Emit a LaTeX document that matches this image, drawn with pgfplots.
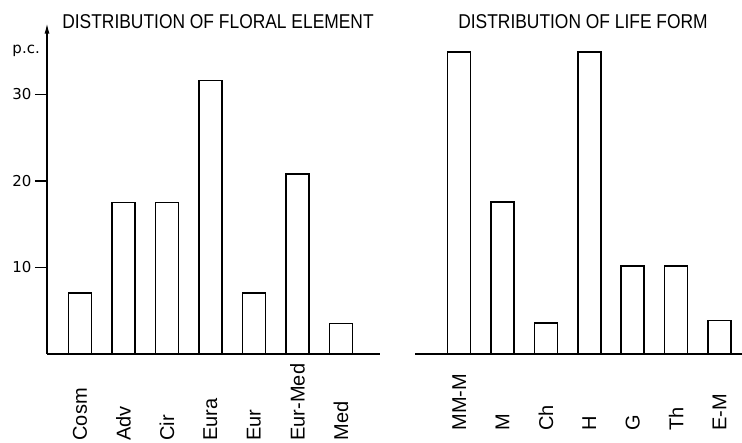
\documentclass[border=0pt]{standalone}
\usepackage{fontspec}
\usepackage{graphicx}
\setmainfont{Liberation Sans}
\newfontfamily\dgtfnt{DejaVu Sans}
\usepackage{pgfplots}
\usepackage{pgfplotstable}
\pgfplotsset{compat=1.18}
\usetikzlibrary{arrows.meta}

\pgfplotstableread{
x val
0 7.05
1 17.5
2 17.5
3 31.6
4 7.05
5 20.8
6 3.5
}\floral

\pgfplotstableread{
x val
0 34.9
1 17.6
2 3.6
3 34.9
4 10.2
5 10.2
6 3.9
}\life

\begin{document}
\begin{tikzpicture}
\useasboundingbox (0,0) rectangle (742pt,442pt);
\begin{axis}[
  scale only axis, anchor=south west,
  at={(47pt,88pt)},
  width=333pt, height=331.3pt,
  xmin=-0.76, xmax=6.9, ymin=0, ymax=38.3,
  clip=false,
  axis line style={line width=1.6pt, black},
  axis x line=bottom, axis y line=left,
  x axis line style={-},
  y axis line style={-{Latex[length=11pt,width=5pt]}},
  xtick=data,
  xticklabels={Cosm,Adv,Cir,Eura,Eur,Eur-Med,Med},
  xtick style={draw=none},
  ytick={10,20,30},
  tick align=outside, major tick length=12pt,
  ytick style={line width=1.4pt, black},
  /pgf/number format/assume math mode=true,
  yticklabel style={font=\dgtfnt\fontsize{15}{15}\selectfont},
  xticklabel style={font=\fontsize{20}{20}\selectfont, yshift=-78pt, rotate=90, anchor=west},
]
\addplot[ybar, bar width=23pt, fill=white, draw=black, line width=1.5pt] table[x=x,y=val]{\floral};
\node[anchor=east, font=\dgtfnt\fontsize{15}{15}\selectfont, inner sep=0pt] at ([xshift=-7pt]axis cs:-0.76,35.1) {p.c.};
\end{axis}
\begin{axis}[
  scale only axis, anchor=south west,
  at={(415pt,88pt)},
  width=327pt, height=331.3pt,
  xmin=-1.02, xmax=6.52, ymin=0, ymax=38.3,
  clip=false,
  axis line style={line width=1.6pt, black},
  axis x line=bottom, axis y line=none,
  x axis line style={-},
  xtick=data,
  xticklabels={MM-M,M,Ch,H,G,Th,E-M},
  xtick style={draw=none},
  xticklabel style={font=\fontsize{20}{20}\selectfont, yshift=-78pt, rotate=90, anchor=west},
]
\addplot[ybar, bar width=23pt, fill=white, draw=black, line width=1.5pt] table[x=x,y=val]{\life};
\end{axis}
\node at (218pt,420pt) {\scalebox{0.87}[1]{\fontsize{20}{20}\selectfont DISTRIBUTION OF FLORAL ELEMENT}};
\node at (583pt,420pt) {\scalebox{0.87}[1]{\fontsize{20}{20}\selectfont DISTRIBUTION OF LIFE FORM}};
\end{tikzpicture}
\end{document}
